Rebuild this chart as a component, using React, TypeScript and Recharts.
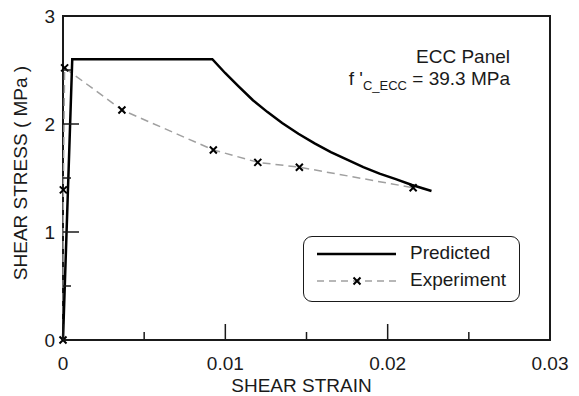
import React from 'react';
import { LineChart, Line, XAxis, YAxis, ReferenceArea } from 'recharts';

// predicted envelope (solid) and test results (dashed with x markers)
const predStrain = [0, 0.00057, 0.0092, 0.01, 0.0108, 0.0117, 0.0126, 0.0135, 0.0145, 0.0155, 0.0165, 0.0175, 0.0185, 0.0195, 0.0205, 0.0215, 0.0227];
const predStress = [0, 2.6, 2.6, 2.47, 2.35, 2.22, 2.11, 2.01, 1.91, 1.82, 1.74, 1.67, 1.6, 1.54, 1.49, 1.435, 1.38];
const expStrain = [0, 0.00002, 0.0001, 0.00363, 0.00926, 0.012, 0.01456, 0.02157];
const expStress = [0, 1.39, 2.52, 2.13, 1.76, 1.645, 1.6, 1.41];

const xTicks = [0, 0.005, 0.01, 0.015, 0.02, 0.025, 0.03];
const xMajor = [0, 0.01, 0.02, 0.03];
const xLabels = ['0', '0.01', '0.02', '0.03'];
const yTicks = [0, 0.5, 1, 1.5, 2, 2.5, 3];
const yMajor = [0, 1, 2, 3];
const yLabels = ['0', '1', '2', '3'];

const predicted = predStrain.map((s, i) => ({ strain: s, stress: predStress[i] }));
const experiment = expStrain.map((s, i) => ({ strain: s, stress: expStress[i] }));

const FONT = '"Liberation Sans", Arial, sans-serif';
const INK = '#1a1a1a';

const majorIndex = (list: number[], v: number) => list.findIndex((m) => Math.abs(m - v) < 1e-9);

const XTick = (props: any) => {
  const { x, y, payload } = props;
  const i = majorIndex(xMajor, payload.value);
  return (
    <g>
      <line x1={x} x2={x} y1={y} y2={y - (i >= 0 ? 16 : 8)} stroke={INK} strokeWidth={1.5} />
      {i >= 0 && (
        <text x={x} y={y + 30} textAnchor="middle" fontSize={19} fontFamily={FONT} fill={INK}>
          {xLabels[i]}
        </text>
      )}
    </g>
  );
};

const YTick = (props: any) => {
  const { x, y, payload } = props;
  const i = majorIndex(yMajor, payload.value);
  return (
    <g>
      <line x1={x} x2={x + (i >= 0 ? 16 : 8)} y1={y} y2={y} stroke={INK} strokeWidth={1.5} />
      {i >= 0 && (
        <text x={x - 8} y={y + 7} textAnchor="end" fontSize={19} fontFamily={FONT} fill={INK}>
          {yLabels[i]}
        </text>
      )}
    </g>
  );
};

const Cross = (props: any) => {
  const { cx, cy, index } = props;
  if (cx == null || cy == null) return <g key={index} />;
  return (
    <path
      key={index}
      d={`M${cx - 3.5},${cy - 3.5}L${cx + 3.5},${cy + 3.5}M${cx - 3.5},${cy + 3.5}L${cx + 3.5},${cy - 3.5}`}
      stroke="#000"
      strokeWidth={2}
    />
  );
};

const LegendBox = () => (
  <div
    style={{
      position: 'absolute',
      left: 303,
      top: 236,
      width: 215,
      height: 64,
      border: `1.5px solid ${INK}`,
      borderRadius: 9,
      background: '#fff',
      fontFamily: FONT,
      fontSize: 19,
      color: INK,
    }}
  >
    <svg width={100} height={64} style={{ position: 'absolute', left: 0, top: 0 }}>
      <line x1={13} x2={92} y1={17} y2={17} stroke="#000" strokeWidth={2.5} />
      <line x1={13} x2={92} y1={44} y2={44} stroke="#a0a0a0" strokeWidth={1.5} strokeDasharray="7 5" />
      <Cross cx={53} cy={44} index={0} />
    </svg>
    <div style={{ position: 'absolute', left: 106, top: 5, lineHeight: '22px' }}>Predicted</div>
    <div style={{ position: 'absolute', left: 106, top: 32, lineHeight: '22px' }}>Experiment</div>
  </div>
);

export default function App() {
  return (
    <div style={{ position: 'absolute', left: 0, top: 0, width: 579, height: 396, background: '#fff' }}>
      <LineChart width={579} height={396} margin={{ top: 16, right: 29, bottom: 0, left: 0 }}>
        <XAxis
          dataKey="strain"
          type="number"
          domain={[0, 0.03]}
          ticks={xTicks}
          tick={<XTick />}
          tickLine={false}
          axisLine={false}
          tickSize={0}
          tickMargin={0}
          height={56}
          allowDuplicatedCategory={false}
          label={{ value: 'SHEAR STRAIN', position: 'insideBottom', offset: 4, dx: -5, fontSize: 19, fontFamily: FONT, fill: INK }}
        />
        <YAxis
          dataKey="stress"
          type="number"
          domain={[0, 3]}
          ticks={yTicks}
          tick={<YTick />}
          tickLine={false}
          axisLine={false}
          tickSize={0}
          tickMargin={0}
          width={63}
          label={{ value: 'SHEAR STRESS ( MPa )', angle: -90, position: 'center', dx: -11, dy: -5, fontSize: 19, fontFamily: FONT, fill: INK }}
        />
        <ReferenceArea x1={0} x2={0.03} y1={0} y2={3} fill="none" stroke={INK} strokeWidth={2} ifOverflow="visible" />
        <Line
          data={experiment}
          dataKey="stress"
          type="linear"
          stroke="#a0a0a0"
          strokeWidth={1.5}
          strokeDasharray="8 5"
          dot={<Cross />}
          isAnimationActive={false}
        />
        <Line data={predicted} dataKey="stress" type="linear" stroke="#000" strokeWidth={2.5} dot={false} isAnimationActive={false} />
      </LineChart>
      <LegendBox />
      <div
        style={{
          position: 'absolute',
          right: 69,
          top: 46,
          textAlign: 'right',
          fontFamily: FONT,
          fontSize: 19,
          lineHeight: '22px',
          color: INK,
        }}
      >
        <div>ECC Panel</div>
        <div>
          f '<sub style={{ fontSize: 13, verticalAlign: -5 }}>C_ECC</sub> = 39.3 MPa
        </div>
      </div>
    </div>
  );
}
